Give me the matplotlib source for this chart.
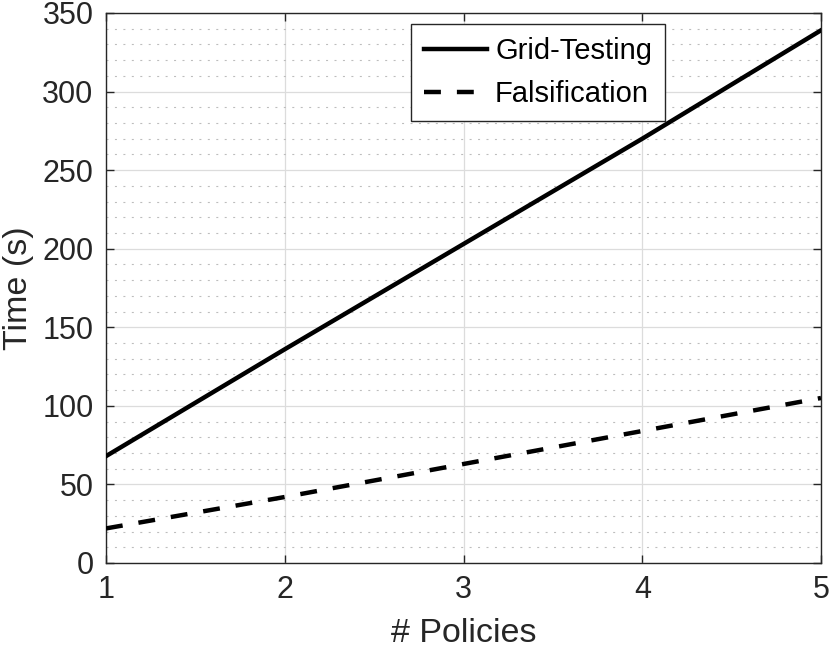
import matplotlib
matplotlib.use("Agg")
import matplotlib.pyplot as plt
from matplotlib.ticker import MultipleLocator

policies = [1, 2, 3, 4, 5]
grid_testing = [68, 136, 203, 270, 339]
falsification = [22, 42, 63, 84, 105]

plt.rcParams['font.family'] = ['Liberation Sans', 'DejaVu Sans']

fig = plt.figure(figsize=(8.30, 6.49), dpi=100)
ax = fig.add_axes([106/830, 1 - 563/649, (821-106)/830, (563-13)/649])

ax.plot(policies, grid_testing, color='black', lw=3.2, label='Grid-Testing', zorder=3)
ax.plot(policies, falsification, color='black', lw=3.2, linestyle=(0, (3.8, 3.6)),
        label='Falsification', zorder=3)

ax.set_xlim(1, 5)
ax.set_ylim(0, 350)
ax.xaxis.set_major_locator(MultipleLocator(1))
ax.yaxis.set_major_locator(MultipleLocator(50))
ax.yaxis.set_minor_locator(MultipleLocator(10))

ax.grid(True, which='major', color='#dcdcdc', lw=0.9, ls='-')
ax.grid(True, which='minor', axis='y', color='#bdbdbd', lw=0.8, ls=(0, (1.8, 5.8)))
ax.set_axisbelow(True)

ax.tick_params(which='major', direction='in', length=6, width=1.0, top=True, right=True,
               labelsize=22, pad=9, color='#262626', labelcolor='#262626')
ax.tick_params(which='minor', length=0)
for s in ax.spines.values():
    s.set_color('#262626')
    s.set_linewidth(1.0)

ax.set_xlabel('# Policies', fontsize=24.5, labelpad=9, color='#262626')
ax.set_ylabel('Time (s)', fontsize=24.5, labelpad=6, color='#262626')

leg = ax.legend(loc='upper left', bbox_to_anchor=((411-106)/715, 1 - (24-13)/550),
                fontsize=21, frameon=True, fancybox=False, edgecolor='#262626',
                framealpha=1, handlelength=2.15, borderpad=0.45, labelspacing=0.5,
                handletextpad=0.28, borderaxespad=0)
leg.get_frame().set_linewidth(1.0)

fig.savefig('out.png', dpi=100)
